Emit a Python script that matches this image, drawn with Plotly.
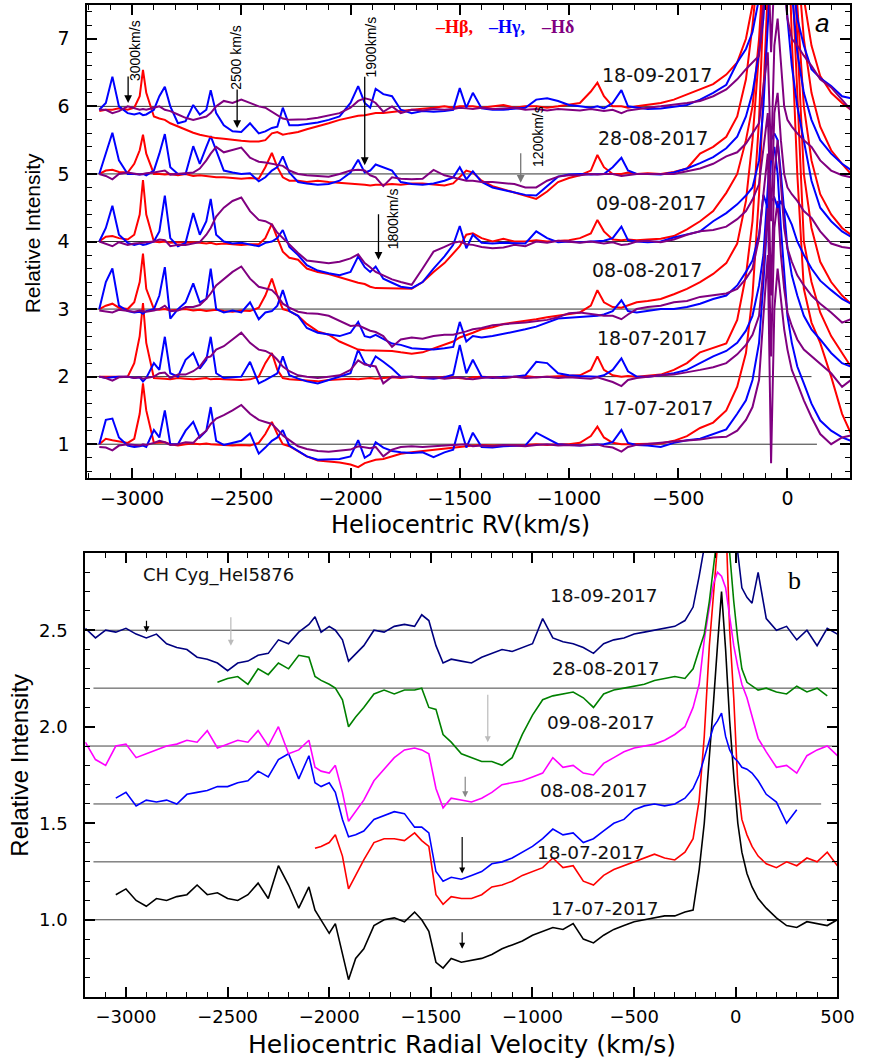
import plotly.graph_objects as go

# ---------------- Panel a : H-beta / H-gamma / H-delta ----------------
V_TOP = [-3150,-3120,-3090,-3060,-3020,-2990,-2965,-2950,-2935,-2900,
         -2875,-2850,-2825,-2790,-2755,-2720,-2690,-2660,-2640,-2615,
         -2580,-2540,-2500,-2460,-2420,-2390,-2360,-2335,-2310,-2280,
         -2240,-2200,-2150,-2100,-2050,-2000,-1965,-1935,-1910,-1885,
         -1850,-1810,-1770,-1720,-1670,-1620,-1570,-1530,-1500,-1470,
         -1440,-1400,-1350,-1300,-1250,-1200,-1150,-1100,-1050,-1000,
         -950,-900,-870,-840,-800,-760,-730,-690,-640,-580,
         -520,-460,-400,-340,-280,-230,-190,-160,-130,-110,
         -90,-75,-60,-45,-30,-15,0,20,45,75,
         110,150,200,250,290]

HB_18_09 = [5.93,5.95,5.95,5.97,5.95,5.98,6.15,6.54,6.2,5.85,
            5.82,5.8,5.75,5.7,5.66,5.61,5.58,5.56,5.55,5.53,
            5.52,5.5,5.49,5.48,5.48,5.5,5.6,5.62,5.58,5.6,
            5.62,5.66,5.7,5.75,5.8,5.84,5.86,5.87,5.88,5.9,
            5.9,5.92,5.93,5.95,5.96,5.98,6.0,5.98,6.0,6.0,
            6.0,5.98,6.0,6.02,5.98,6.0,6.0,5.98,6.0,6.02,
            6.05,6.22,6.35,6.15,6.0,6.0,5.98,6.0,6.02,6.05,
            6.1,6.18,6.25,6.33,6.47,6.65,7.0,7.5,8.5,9.5,
            10,10,10,10,10,10,10,9.5,8.5,7.6,
            6.9,6.45,6.2,6.05,5.95]
HB_28_08 = [5.0,5.05,5.06,5.03,5.02,5.15,5.35,5.58,5.3,5.0,
            5.0,4.99,5.0,4.98,5.0,4.97,4.98,4.97,4.96,4.95,
            4.95,4.94,4.93,4.94,4.93,5.1,5.31,5.1,4.95,4.9,
            4.9,4.88,4.9,4.88,4.87,4.86,4.85,4.84,4.83,4.84,
            4.84,4.85,4.84,4.86,4.86,4.85,4.83,4.86,4.95,5.05,
            5.02,4.9,4.82,4.77,4.72,4.68,4.63,4.74,4.88,4.94,
            4.98,5.05,5.28,5.1,5.0,5.0,5.02,5.0,5.01,5.0,
            5.03,5.08,5.3,5.4,5.55,5.85,6.4,7.2,8.2,9.0,
            10,10,10,10,10,10,10,9.5,8.2,7.0,
            6.2,5.7,5.35,5.15,5.0]
HB_09_08 = [4.0,4.07,4.08,4.05,4.03,4.1,4.4,4.91,4.4,4.0,
            3.99,4.0,3.98,3.99,3.98,3.99,3.98,3.97,3.98,3.96,
            3.97,3.96,3.95,3.96,3.96,4.05,4.26,4.05,3.85,3.76,
            3.73,3.6,3.55,3.52,3.47,3.43,3.39,3.37,3.33,3.31,
            3.31,3.3,3.31,3.3,3.4,3.55,3.68,3.82,3.93,4.1,
            4.12,4.05,4.0,4.04,4.0,4.0,4.02,4.0,4.01,4.02,
            4.05,4.12,4.32,4.15,4.03,4.02,4.03,4.02,4.03,4.04,
            4.08,4.18,4.3,4.45,4.72,5.0,5.5,6.0,7.0,8.0,
            9.5,10,10,10,10,10,10,9,7.5,6.0,
            5.2,4.7,4.4,4.2,4.1]
HB_08_08 = [3.0,3.05,3.08,3.02,3.0,3.1,3.4,3.82,3.3,3.0,
            2.99,3.0,2.98,2.99,3.0,2.98,2.99,2.97,2.98,2.99,
            2.97,2.96,2.98,2.97,3.02,3.2,3.45,3.2,3.0,2.97,
            2.9,2.78,2.67,2.62,2.52,2.45,2.4,2.39,2.39,2.38,
            2.38,2.38,2.36,2.34,2.36,2.42,2.48,2.52,2.58,2.62,
            2.65,2.7,2.73,2.78,2.8,2.83,2.85,2.88,2.9,2.92,
            2.95,3.05,3.28,3.1,3.03,3.02,3.05,3.1,3.12,3.15,
            3.22,3.3,3.4,3.52,3.68,3.97,4.6,5.5,6.8,8.0,
            9.5,10,10,10,10,10,9.8,9,7,5.0,
            4.2,3.7,3.4,3.2,3.08]
HB_18_07 = [2.0,2.0,2.0,2.01,2.0,2.2,2.6,3.09,2.5,1.98,
            1.98,1.97,1.96,1.98,1.97,1.96,1.97,1.98,1.96,1.97,
            1.96,1.95,1.95,1.96,2.0,2.2,2.35,2.1,1.98,1.96,
            1.95,1.94,1.93,1.95,1.96,1.97,1.96,1.97,1.98,1.97,
            1.98,1.99,1.98,2.0,1.99,1.98,2.0,1.99,1.98,1.97,
            1.99,2.0,1.99,1.98,2.0,2.01,1.99,2.0,2.0,2.01,
            2.02,2.1,2.3,2.1,2.02,2.0,2.01,2.0,2.01,2.03,
            2.1,2.2,2.36,2.42,2.49,2.84,3.5,4.3,5.8,7.5,
            9,10,10,10,10,10,9.5,8,6,4.0,
            3.4,2.95,2.6,2.35,2.15]
HB_17_07 = [1.0,1.08,1.06,1.04,1.02,1.08,1.45,1.9,1.5,1.02,
            1.02,1.03,1.0,0.98,1.0,1.01,1.0,1.01,1.0,1.0,
            0.99,0.98,0.99,0.98,1.02,1.15,1.33,1.15,1.0,0.97,
            0.9,0.82,0.76,0.75,0.73,0.7,0.66,0.72,0.74,0.77,
            0.78,0.82,0.86,0.88,0.9,0.92,0.94,0.95,0.96,0.97,
            0.98,0.99,0.98,0.98,0.99,0.99,1.0,0.99,1.0,1.0,
            1.02,1.12,1.26,1.1,1.02,1.0,1.0,1.0,1.0,1.01,
            1.05,1.12,1.24,1.32,1.5,1.85,2.35,3.2,4.7,6.5,
            8,9.5,10,10,10,10,9,7,5,3.3,
            2.8,2.5,2.0,1.45,1.16]

HG_18_09 = [5.95,6.05,6.44,6.0,5.9,5.88,5.9,5.87,5.88,5.95,
            6.15,6.29,6.0,5.75,5.78,6.02,5.88,5.95,6.24,5.9,
            5.72,5.63,5.62,5.75,5.6,5.63,5.68,5.7,5.98,5.72,
            5.72,5.74,5.76,5.8,5.85,6.05,6.3,6.05,5.98,6.26,
            6.18,6.15,5.95,5.9,5.93,5.92,5.93,5.95,6.27,5.98,
            6.2,5.97,5.95,5.95,5.96,5.98,6.1,6.12,6.08,6.02,
            6.0,5.98,6.0,5.97,6.05,6.24,6.0,5.98,5.96,5.97,
            6.0,6.02,6.1,6.2,6.32,6.65,6.85,7.1,7.6,8.3,
            9,9.5,9.5,9.5,9.5,9.3,8.8,8.0,7.3,6.9,
            6.55,6.42,6.3,6.15,6.12]
HG_28_08 = [5.0,5.3,5.61,5.2,5.0,5.0,4.99,5.0,4.98,5.05,
            5.3,5.59,5.1,5.0,5.0,5.41,5.15,5.4,5.56,5.35,
            5.05,5.02,5.0,5.01,4.89,4.95,5.05,5.1,5.26,5.02,
            4.88,4.86,4.84,4.85,4.9,5.02,5.21,5.02,5.05,5.14,
            5.1,5.05,4.88,4.85,4.84,4.86,4.9,4.95,5.1,4.92,
            5.04,4.88,4.8,4.76,4.72,4.69,4.68,4.82,4.96,4.99,
            5.0,4.99,5.0,5.0,5.1,5.24,5.05,5.0,5.0,4.99,
            5.02,5.08,5.16,5.25,5.38,5.55,5.85,6.2,6.8,7.3,
            8.5,9.2,9.5,9.5,9.2,8.8,8.3,7.7,6.8,6.2,
            5.8,5.5,5.3,5.15,5.06]
HG_09_08 = [4.0,4.2,4.53,4.1,3.98,3.95,3.97,3.95,3.96,4.0,
            4.15,4.68,4.05,3.93,3.98,4.42,4.1,4.3,4.63,4.1,
            4.0,3.97,3.98,3.96,3.93,3.98,4.0,4.05,4.17,3.92,
            3.8,3.65,3.57,3.53,3.5,3.55,3.78,3.62,3.55,3.63,
            3.45,3.39,3.33,3.31,3.4,3.6,3.78,3.95,4.23,3.9,
            4.1,3.98,3.97,3.98,3.98,3.97,4.15,4.05,3.99,4.0,
            3.99,4.0,4.0,4.01,4.05,4.22,4.02,4.0,3.99,4.0,
            4.06,4.1,4.15,4.3,4.42,4.55,4.68,4.8,5.2,6.0,
            7.5,8.5,9,9,8.5,8,7.3,6.6,6.0,5.5,
            4.9,4.5,4.3,4.15,4.07]
HG_08_08 = [3.0,3.4,3.6,3.05,2.97,2.95,2.96,2.93,2.97,3.0,
            3.2,3.62,2.86,3.0,3.1,3.38,3.1,3.15,3.6,3.0,
            2.95,2.98,2.95,3.1,2.85,2.95,2.97,3.05,3.28,2.97,
            2.9,2.72,2.65,2.63,2.6,2.65,2.81,2.6,2.58,2.62,
            2.56,2.49,2.47,2.42,2.41,2.4,2.42,2.44,2.81,2.52,
            2.6,2.58,2.6,2.63,2.66,2.7,2.74,2.8,2.86,2.87,
            2.88,2.89,2.9,2.92,2.97,3.13,2.97,2.95,2.97,3.0,
            3.0,3.03,3.08,3.15,3.2,3.35,3.55,3.72,4.1,4.69,
            4.5,4.6,4.65,4.5,4.6,4.5,4.4,4.25,4.0,3.8,
            3.6,3.42,3.28,3.15,3.08]
HG_18_07 = [2.0,1.98,1.99,2.0,2.0,1.98,1.99,1.93,1.98,2.2,
            2.1,2.59,2.05,2.0,2.25,2.35,2.12,2.25,2.59,2.05,
            1.98,1.99,2.0,2.22,1.9,1.95,2.0,2.05,2.3,2.02,
            1.97,1.93,1.9,1.95,2.0,2.05,2.4,2.2,2.15,2.3,
            2.22,2.12,2.0,2.0,1.98,1.97,1.99,2.03,2.47,2.05,
            2.25,2.0,1.98,2.0,2.0,2.02,2.22,2.2,2.05,2.02,
            2.01,2.0,2.0,2.02,2.1,2.27,2.08,2.0,2.0,2.02,
            2.05,2.1,2.2,2.3,2.38,2.5,2.68,2.9,3.35,3.8,
            4.8,5.5,5.6,5.5,5.0,4.4,3.9,3.5,3.2,2.9,
            2.7,2.55,2.35,2.2,2.15]
HG_17_07 = [1.0,1.36,1.38,1.1,0.98,0.96,0.97,0.98,0.96,1.21,
            1.1,1.5,1.0,1.0,1.2,1.33,1.1,1.2,1.55,1.05,
            0.99,1.02,1.05,1.16,0.86,0.95,1.05,1.1,1.21,0.98,
            0.9,0.82,0.77,0.78,0.78,0.82,1.06,0.8,0.85,1.03,
            0.95,0.9,0.88,0.87,0.88,0.81,0.88,0.92,1.28,0.95,
            1.17,0.96,0.95,0.97,0.98,0.98,1.17,1.08,1.0,0.99,
            0.98,0.99,1.0,1.0,1.03,1.21,1.02,0.99,0.98,0.96,
            1.02,1.06,1.08,1.15,1.22,1.45,1.65,1.95,2.5,3.4,
            4.5,5.2,5.4,5.0,4.2,3.5,2.9,2.5,2.15,1.9,
            1.6,1.35,1.2,1.1,1.05]

HD_18_09 = [5.95,5.95,5.9,5.93,6.0,5.97,5.95,5.96,5.95,5.98,
            6.0,5.95,5.93,5.88,5.83,5.8,5.82,5.85,5.9,6.0,
            6.08,6.05,6.1,6.05,6.0,5.98,5.92,5.88,5.82,5.8,
            5.8,5.81,5.83,5.86,5.9,5.98,6.08,6.12,6.1,6.05,
            5.92,6.0,5.9,5.95,5.94,5.96,5.95,5.96,5.98,5.97,
            5.96,5.98,5.96,5.97,5.98,5.95,5.96,5.94,5.96,5.95,
            5.94,5.96,5.95,5.93,5.95,5.9,5.94,5.96,5.98,6.0,
            6.02,6.05,6.08,6.15,6.25,6.4,6.55,6.65,6.75,7.5,
            8.5,6.8,8.5,9,8.5,7.8,7.3,7.0,6.9,6.75,
            6.6,6.4,6.28,6.1,5.95]
HD_28_08 = [5.0,4.97,4.92,5.0,5.02,5.0,4.99,5.0,5.01,5.02,
            5.03,5.05,4.99,5.0,5.0,5.02,5.08,5.2,5.3,5.4,
            5.32,5.35,5.39,5.24,5.18,5.17,5.15,5.14,5.12,5.05,
            5.0,4.98,4.97,4.96,5.0,5.05,5.06,5.05,4.98,4.95,
            4.82,4.95,4.93,4.92,4.93,5.06,4.98,4.95,4.93,4.9,
            4.9,4.88,4.88,4.87,4.85,4.8,4.8,4.9,4.96,4.98,
            4.98,5.0,4.99,5.0,5.0,4.97,4.98,5.0,5.0,5.0,
            5.0,5.04,5.08,5.15,5.26,5.32,5.45,5.6,5.75,6.3,
            6.8,5.2,6.9,7.3,6.6,6.0,5.8,5.7,5.6,5.5,
            5.4,5.2,5.05,4.98,4.95]
HD_09_08 = [4.0,3.97,3.93,3.99,3.95,3.97,3.97,3.98,3.99,4.0,
            4.03,4.02,3.93,3.95,3.95,3.97,3.99,4.1,4.2,4.37,
            4.5,4.6,4.65,4.45,4.32,4.3,4.25,4.13,4.05,3.95,
            3.83,3.72,3.7,3.68,3.7,3.75,3.81,3.68,3.62,3.55,
            3.5,3.44,3.4,3.36,3.6,3.85,3.92,3.98,4.0,3.96,
            3.95,3.92,3.9,3.91,3.95,3.93,4.0,3.98,4.01,4.0,
            3.98,4.0,3.99,3.97,3.99,3.95,3.96,4.0,4.01,3.99,
            4.03,4.1,4.15,4.17,4.22,4.33,4.45,4.62,4.85,5.4,
            5.9,4.3,5.9,6.2,5.5,5.0,4.8,4.7,4.6,4.45,
            4.35,4.15,3.97,3.92,3.9]
HD_08_08 = [2.98,2.96,2.95,2.99,2.97,2.96,2.98,2.97,2.96,2.98,
            3.0,3.05,2.97,2.98,3.03,3.03,3.06,3.15,3.23,3.35,
            3.45,3.55,3.63,3.45,3.33,3.3,3.28,3.2,3.08,3.02,
            2.96,2.94,2.93,2.9,2.82,2.75,2.76,2.72,2.68,2.66,
            2.6,2.44,2.55,2.58,2.56,2.6,2.62,2.62,2.64,2.67,
            2.7,2.72,2.76,2.78,2.79,2.8,2.82,2.84,2.88,2.94,
            2.95,2.93,2.92,2.9,2.9,2.85,2.92,3.0,3.03,3.05,
            3.1,3.12,3.18,3.2,3.23,3.3,3.45,3.6,4.05,4.7,
            5.3,3.2,5.0,5.5,4.8,4.2,3.9,3.7,3.5,3.35,
            3.2,3.08,2.95,2.8,2.85]
HD_18_07 = [2.0,1.98,1.94,1.99,2.0,1.98,1.99,1.97,1.98,2.0,
            2.05,2.06,1.98,2.03,2.03,2.08,2.15,2.28,2.3,2.4,
            2.45,2.55,2.65,2.5,2.4,2.38,2.33,2.25,2.15,2.08,
            2.02,2.0,1.98,2.0,2.02,2.1,2.24,2.18,2.17,2.15,
            1.9,2.0,1.99,2.0,1.98,1.99,1.97,1.98,1.99,1.97,
            1.96,1.98,1.99,1.98,2.0,1.98,1.99,2.0,1.98,1.99,
            1.98,1.97,1.99,1.96,1.92,1.86,1.95,1.98,2.0,2.02,
            2.03,2.06,2.1,2.14,2.2,2.33,2.47,2.62,2.9,3.6,
            4.5,2.3,4.2,4.6,3.8,3.3,2.95,2.75,2.55,2.4,
            2.3,2.2,2.05,1.85,1.95]
HD_17_07 = [0.96,0.95,0.91,0.98,1.0,0.99,0.98,1.0,0.99,1.02,
            1.05,1.03,0.99,1.0,1.03,1.02,1.12,1.2,1.3,1.38,
            1.43,1.5,1.58,1.45,1.36,1.33,1.3,1.22,1.13,1.06,
            0.97,0.93,0.9,0.89,0.9,0.92,0.97,0.95,0.94,0.96,
            0.82,0.92,0.96,0.97,0.96,0.97,0.98,0.99,0.99,1.0,
            0.97,0.98,0.97,0.99,0.98,0.97,0.99,1.0,0.98,0.99,
            0.98,0.99,1.0,0.97,0.95,0.89,0.96,0.99,1.0,1.02,
            1.04,1.05,1.07,1.1,1.11,1.2,1.36,1.55,1.95,2.9,
            3.8,0.72,3.0,3.6,3.1,2.7,2.4,2.1,1.9,1.65,
            1.4,1.15,1.0,1.1,1.13]

TOP_DATES = ["17-07-2017", "18-07-2017", "08-08-2017", "09-08-2017", "28-08-2017", "18-09-2017"]
TOP_BASELINES = [1, 2, 3, 4, 5, 6]
TOP_HB = [HB_17_07, HB_18_07, HB_08_08, HB_09_08, HB_28_08, HB_18_09]
TOP_HG = [HG_17_07, HG_18_07, HG_08_08, HG_09_08, HG_28_08, HG_18_09]
TOP_HD = [HD_17_07, HD_18_07, HD_08_08, HD_09_08, HD_28_08, HD_18_09]

# ---------------- Panel b : He I 5876 ----------------
V_BOT = [-3200,-3150,-3100,-3050,-3000,-2950,-2900,-2850,-2800,-2750,
         -2700,-2650,-2600,-2550,-2500,-2450,-2400,-2350,-2300,-2250,
         -2200,-2150,-2100,-2070,-2040,-2000,-1970,-1935,-1905,-1870,
         -1830,-1780,-1730,-1680,-1630,-1580,-1545,-1510,-1475,-1440,
         -1400,-1350,-1300,-1250,-1200,-1150,-1100,-1050,-1000,-950,
         -900,-850,-800,-750,-700,-650,-600,-550,-500,-450,
         -400,-350,-300,-250,-210,-180,-155,-130,-110,-90,
         -70,-50,-30,-10,10,30,55,80,110,150,
         200,250,300,350,400,450,500]

HE_18_09 = [2.51,2.46,2.5,2.49,2.51,2.48,2.46,2.48,2.43,2.41,
            2.4,2.36,2.35,2.33,2.29,2.33,2.34,2.37,2.38,2.45,
            2.43,2.49,2.53,2.57,2.49,2.52,2.5,2.45,2.34,2.38,
            2.42,2.5,2.49,2.52,2.53,2.52,2.58,2.55,2.42,2.33,
            2.35,2.34,2.33,2.36,2.38,2.4,2.39,2.41,2.43,2.56,
            2.46,2.44,2.43,2.41,2.38,2.43,2.45,2.46,2.48,2.49,
            2.5,2.51,2.52,2.55,2.62,2.78,2.95,3.1,3.2,3.3,
            3.3,3.3,3.2,3.05,2.9,2.72,2.67,2.64,2.8,2.56,
            2.5,2.52,2.45,2.5,2.42,2.51,2.48]
HE_28_08 = [None,None,None,None,None,None,None,None,None,None,
            None,None,None,2.23,2.25,2.26,2.22,2.3,2.27,2.33,
            2.3,2.37,2.36,2.26,2.24,2.22,2.2,2.14,2.0,2.05,
            2.1,2.17,2.19,2.17,2.19,2.19,2.2,2.1,2.09,1.96,
            1.92,1.86,1.84,1.82,1.82,1.8,1.84,1.96,2.06,2.14,
            2.16,2.17,2.18,2.15,2.1,2.17,2.19,2.2,2.21,2.22,
            2.24,2.25,2.26,2.25,2.3,2.4,2.48,2.65,2.82,3.0,
            3.1,3.1,2.9,2.65,2.45,2.3,2.23,2.21,2.19,2.2,
            2.18,2.17,2.21,2.18,2.2,2.16,None]
HE_09_08 = [1.92,1.83,1.8,1.9,1.91,1.84,1.86,1.88,1.9,1.91,
            1.93,1.92,1.98,1.89,1.91,1.93,1.92,1.98,1.9,2.0,
            1.86,1.88,1.93,1.79,1.77,1.76,1.8,1.66,1.51,1.56,
            1.62,1.72,1.78,1.84,1.88,1.89,1.88,1.86,1.68,1.58,
            1.63,1.62,1.61,1.63,1.66,1.7,1.71,1.72,1.74,1.76,
            1.84,1.79,1.8,1.76,1.75,1.81,1.84,1.87,1.89,1.9,
            1.91,1.93,1.96,2.0,2.1,2.22,2.45,2.62,2.74,2.8,
            2.78,2.72,2.58,2.42,2.31,2.22,2.15,2.05,1.94,1.87,
            1.79,1.8,1.76,1.85,1.88,1.9,1.85]
HE_08_08 = [None,None,None,1.63,1.66,1.59,1.62,1.61,1.62,1.6,
            1.65,1.66,1.67,1.69,1.69,1.71,1.72,1.77,1.74,1.83,
            1.86,1.73,1.85,1.71,1.69,1.71,1.66,1.52,1.43,1.44,
            1.46,1.52,1.54,1.56,1.55,1.48,1.48,1.45,1.25,1.2,
            1.22,1.21,1.23,1.25,1.29,1.3,1.32,1.35,1.38,1.42,
            1.47,1.44,1.45,1.4,1.42,1.46,1.5,1.52,1.57,1.59,
            1.6,1.59,1.6,1.63,1.68,1.75,1.84,1.93,2.0,2.03,
            2.07,1.95,1.88,1.84,1.82,1.79,1.78,1.76,1.72,1.65,
            1.61,1.5,1.57,None,None,None,None]
HE_18_07 = [None,None,None,None,None,None,None,None,None,None,
            None,None,None,None,None,None,None,None,None,None,
            None,None,None,1.37,1.38,1.4,1.44,1.33,1.16,1.23,
            1.31,1.4,1.42,1.42,1.41,1.45,1.41,1.38,1.13,1.08,
            1.12,1.11,1.11,1.13,1.17,1.18,1.2,1.23,1.25,1.27,
            1.32,1.27,1.28,1.2,1.18,1.23,1.26,1.28,1.3,1.32,
            1.34,1.32,1.31,1.35,1.42,1.62,1.95,2.42,2.72,3.0,
            3.2,3.1,2.5,2.15,1.7,1.52,1.44,1.38,1.33,1.29,
            1.27,1.3,1.28,1.32,1.3,1.35,1.28]
HE_17_07 = [None,None,None,1.13,1.16,1.1,1.07,1.11,1.1,1.12,
            1.13,1.18,1.13,1.14,1.11,1.1,1.13,1.19,1.11,1.28,
            1.18,1.06,1.17,1.05,1.0,0.93,0.98,0.83,0.69,0.8,
            0.85,0.97,1.0,1.01,0.99,1.04,1.0,0.94,0.78,0.75,
            0.8,0.78,0.79,0.8,0.82,0.85,0.87,0.89,0.92,0.94,
            0.96,0.95,0.98,0.9,0.88,0.92,0.95,0.97,0.99,1.0,
            1.01,1.02,1.02,1.04,1.05,1.26,1.5,1.82,2.12,2.42,
            2.7,2.4,2.03,1.75,1.5,1.35,1.24,1.17,1.11,1.06,
            1.01,0.97,0.96,0.99,0.98,0.97,1.0]

BOT_DATES = ["17-07-2017", "18-07-2017", "08-08-2017", "09-08-2017", "28-08-2017", "18-09-2017"]
BOT_BASELINES = [1.0, 1.3, 1.6, 1.9, 2.2, 2.5]
BOT_SERIES = [HE_17_07, HE_18_07, HE_08_08, HE_09_08, HE_28_08, HE_18_09]

# ---------------- styling ----------------
C_HB, C_HG, C_HD = "#ff0000", "#0000ff", "#800080"
BOT_COLORS = ["#000000", "#ff0000", "#0000ff", "#ff00ff", "#008000", "#000080"]
TOP_BASE_X = [(-3160, 135), (-3160, 110), (-3160, 290), (-3160, 290), (-3160, 145), (-3160, 290)]
BOT_BASE_X = [(-3160, 500), (-3160, 500), (-3160, 420), (-3200, 500), (-3160, 500), (-3200, 500)]
TOP_LABEL_POS = [(-593, 1.53), (-620, 2.57), (-642, 3.58), (-624, 4.57), (-615, 5.53), (-597, 6.47)]
BOT_LABEL_POS = [(-642, 1.057), (-714, 1.35), (-695, 1.67), (-661, 2.02), (-637, 2.30), (-646, 2.68)]

for name, arr in [("HB", TOP_HB), ("HG", TOP_HG), ("HD", TOP_HD)]:
    for a in arr:
        assert len(a) == len(V_TOP), (name, len(a))
for a in BOT_SERIES:
    assert len(a) == len(V_BOT), len(a)

fig = go.Figure()

for b, (x0, x1) in zip(TOP_BASELINES, TOP_BASE_X):
    fig.add_trace(go.Scatter(x=[x0, x1], y=[b, b], mode="lines",
                             line=dict(color="#333333", width=1), xaxis="x", yaxis="y",
                             showlegend=False, hoverinfo="skip"))
for b, (x0, x1) in zip(BOT_BASELINES, BOT_BASE_X):
    fig.add_trace(go.Scatter(x=[x0, x1], y=[b, b], mode="lines",
                             line=dict(color="#444444", width=1), xaxis="x2", yaxis="y2",
                             showlegend=False, hoverinfo="skip"))

for d, hb, hg, hd in zip(TOP_DATES, TOP_HB, TOP_HG, TOP_HD):
    fig.add_trace(go.Scatter(x=V_TOP, y=hb, mode="lines", name="Hβ " + d,
                             line=dict(color=C_HB, width=2), xaxis="x", yaxis="y", showlegend=False))
    fig.add_trace(go.Scatter(x=V_TOP, y=hg, mode="lines", name="Hγ " + d,
                             line=dict(color=C_HG, width=2), xaxis="x", yaxis="y", showlegend=False))
    fig.add_trace(go.Scatter(x=V_TOP, y=hd, mode="lines", name="Hδ " + d,
                             line=dict(color=C_HD, width=2), xaxis="x", yaxis="y", showlegend=False))

for d, s, c in zip(BOT_DATES, BOT_SERIES, BOT_COLORS):
    fig.add_trace(go.Scatter(x=V_BOT, y=s, mode="lines", name=d,
                             line=dict(color=c, width=1.6), xaxis="x2", yaxis="y2",
                             showlegend=False, connectgaps=False))

annotations = []


def ann(**kw):
    kw.setdefault("xanchor", "center")
    kw.setdefault("yanchor", "middle")
    kw.setdefault("showarrow", False)
    annotations.append(kw)


for d, (lx, ly) in zip(TOP_DATES, TOP_LABEL_POS):
    ann(x=lx, y=ly, xref="x", yref="y", text=d,
        font=dict(family="DejaVu Sans", size=19, color="#111111"))
for d, (lx, ly) in zip(BOT_DATES, BOT_LABEL_POS):
    ann(x=lx, y=ly, xref="x2", yref="y2", text=d,
        font=dict(family="DejaVu Sans", size=18.5, color="#111111"))

TOP_ARROWS = [("3000km/s", -3018, 6.05, -28, -2986, 6.82, "black"),
              ("2500 km/s", -2519, 5.68, -40, -2524, 6.72, "black"),
              ("1900km/s", -1935, 5.13, -90, -1908, 6.88, "black"),
              ("1200km/s", -1221, 4.87, -31, -1141, 5.55, "#777777"),
              ("1800km/s", -1872, 3.73, -47, -1805, 4.33, "black")]
NARROW = "Liberation Sans Narrow, Arial Narrow, Liberation Sans, Arial"
for lab, tx, ty, ay, lx, ly, col in TOP_ARROWS:
    annotations.append(dict(x=tx, y=ty, xref="x", yref="y", text="", showarrow=True,
                            ax=0, ay=ay, arrowhead=2, arrowsize=1.2, arrowwidth=1.3,
                            arrowcolor=col))
    ann(x=lx, y=ly, xref="x", yref="y", text=lab, textangle=-90,
        font=dict(family=NARROW, size=14, color="black"))

BOT_ARROWS = [(-2899, 2.49, -13, "black"), (-2484, 2.42, -30, "#bbbbbb"),
              (-1220, 1.92, -49, "#bbbbbb"), (-1331, 1.635, -22, "#888888"),
              (-1346, 1.24, -38, "black"), (-1346, 0.85, -18, "black")]
for tx, ty, ay, col in BOT_ARROWS:
    annotations.append(dict(x=tx, y=ty, xref="x2", yref="y2", text="", showarrow=True,
                            ax=0, ay=ay, arrowhead=2, arrowsize=1.0, arrowwidth=1.2,
                            arrowcolor=col))

for txt, col, px in [("–Hβ,", C_HB, 463), ("–Hγ,", C_HG, 517), ("–Hδ", C_HD, 569)]:
    ann(x=px / 875, y=1 - 27 / 1058, xref="paper", yref="paper", text=txt,
        font=dict(family="Liberation Serif, Times New Roman", size=18, color=col, weight="bold"))
ann(x=838 / 875, y=1 - 23 / 1058, xref="paper", yref="paper", text="<i>a</i>",
    font=dict(family="Liberation Sans, Arial", size=26, color="black"))
ann(x=810 / 875, y=1 - 580 / 1058, xref="paper", yref="paper", text="b",
    font=dict(family="Liberation Serif, Times New Roman", size=26, color="black"))
ann(x=223 / 875, y=1 - 575 / 1058, xref="paper", yref="paper", text="CH Cyg_HeI5876",
    font=dict(family="DejaVu Sans", size=18, color="#111111"))

ann(x=470 / 875, y=1 - 525 / 1058, xref="paper", yref="paper", text="Heliocentric RV(km/s)",
    font=dict(family="DejaVu Sans", size=24, color="black"))
ann(x=471 / 875, y=1 - 1044 / 1058, xref="paper", yref="paper",
    text="Heliocentric Radial Velocity (km/s)",
    font=dict(family="DejaVu Sans", size=25, color="black"))
ann(x=33 / 875, y=1 - 233 / 1058, xref="paper", yref="paper", text="Relative Intensity",
    textangle=-90, font=dict(family=NARROW, size=21, color="black"))
ann(x=19 / 875, y=1 - 765 / 1058, xref="paper", yref="paper", text="Relative Intensity",
    textangle=-90, font=dict(family=NARROW, size=24, color="black"))

axis_common = dict(showgrid=False, zeroline=False, showline=True, linecolor="black", linewidth=2,
                   mirror="ticks", ticks="inside", tickcolor="black", tickwidth=1.5)

fig.update_layout(
    width=875, height=1058,
    margin=dict(l=0, r=0, t=0, b=0),
    paper_bgcolor="white", plot_bgcolor="white",
    showlegend=False,
    xaxis=dict(domain=[89 / 875, 867 / 875], anchor="y", range=[-3205, 287],
               tick0=0, dtick=500, ticklen=10, ticklabelstandoff=2,
               tickfont=dict(family="DejaVu Sans", size=19, color="black"),
               minor=dict(dtick=100, ticklen=5, ticks="inside", tickcolor="black", tickwidth=1.2),
               **axis_common),
    yaxis=dict(domain=[1 - 478 / 1058, 1 - 5 / 1058], anchor="x", range=[0.5, 7.5],
               tick0=0, dtick=1, ticklen=10, ticklabelstandoff=12,
               tickfont=dict(family="DejaVu Sans", size=19, color="black"),
               minor=dict(dtick=0.2, ticklen=5, ticks="inside", tickcolor="black", tickwidth=1.2),
               **axis_common),
    xaxis2=dict(domain=[87 / 875, 854 / 875], anchor="y2", range=[-3200, 500],
                tick0=0, dtick=500, ticklen=10, ticklabelstandoff=2,
                tickfont=dict(family="DejaVu Sans", size=18, color="black"),
                minor=dict(dtick=100, ticklen=5, ticks="inside", tickcolor="black", tickwidth=1.2),
                **axis_common),
    yaxis2=dict(domain=[1 - 997 / 1058, 1 - 553 / 1058], anchor="x2", range=[0.6, 2.9],
                tick0=0, dtick=0.5, tickformat=".1f", ticklen=10, ticklabelstandoff=12,
                tickfont=dict(family="DejaVu Sans", size=18, color="black"),
                minor=dict(dtick=0.1, ticklen=5, ticks="inside", tickcolor="black", tickwidth=1.2),
                **axis_common),
    annotations=annotations,
)

fig.write_html("out.html", include_plotlyjs=True, full_html=True,
               config={"displayModeBar": False},
               post_script="document.body.style.margin='0';document.body.style.overflow='hidden';")
